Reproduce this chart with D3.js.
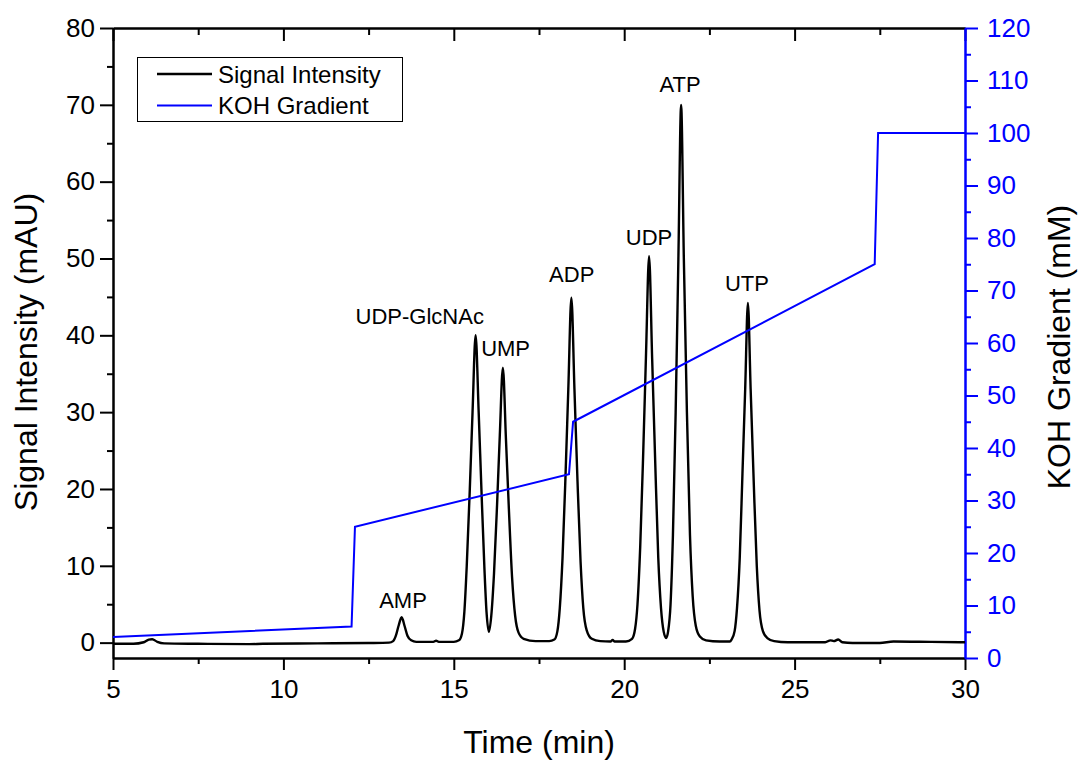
<!DOCTYPE html>
<html>
<head>
<meta charset="utf-8">
<script src="https://cdn.jsdelivr.net/npm/d3@7"></script>
<style>
html,body{margin:0;padding:0;background:#fff;}
svg{display:block;font-family:"Liberation Sans",Arial,sans-serif;}
</style>
</head>
<body>
<svg id="chart" width="1081" height="762"></svg>
<script>
// ---- Data ----
const signalTime = [5.00,5.60,5.90,6.05,6.15,6.30,6.50,7.50,9.00,9.40,11.00,12.50,13.10,
  13.22,13.30,13.38,13.47,13.56,13.64,13.75,13.90,14.40,14.48,14.56,15.00,
  15.15,15.24,15.31,15.38,15.47,15.55,15.64,15.73,15.81,15.90,15.96,16.03,
  16.10,16.18,16.27,16.35,16.44,16.53,16.62,16.71,16.80,16.90,17.05,17.40,17.80,
  17.95,18.04,18.11,18.19,18.28,18.36,18.45,18.54,18.63,18.72,18.80,18.90,19.05,19.30,19.60,19.66,19.72,20.05,
  20.23,20.32,20.39,20.47,20.56,20.64,20.73,20.82,20.91,21.00,21.08,21.16,21.23,
  21.29,21.36,21.43,21.51,21.59,21.67,21.75,21.84,21.93,22.01,22.10,22.22,22.40,22.80,23.10,
  23.15,23.24,23.31,23.39,23.47,23.55,23.63,23.71,23.80,23.89,23.97,24.07,24.20,24.40,24.80,
  25.90,26.05,26.15,26.28,26.40,26.70,27.50,27.90,29.00,30.00];
const signalValue = [-0.15,-0.15,0.05,0.4,0.45,0.1,-0.1,-0.15,-0.2,-0.15,-0.1,-0.05,0.0,
  0.2,0.9,2.2,3.3,2.1,0.9,0.3,0.1,0.1,0.25,0.1,0.1,
  0.3,1.2,4,10,20,30,40,30,20,9.5,4,1.4,
  3.5,9,18,27,35.8,26.5,17,8.5,3.5,1.3,0.5,0.2,0.2,
  0.4,1.5,4.5,11,22,33,44.9,33,21,10.5,4.5,1.6,0.5,0.2,0.15,0.35,0.15,0.15,
  0.5,1.8,5,12.5,25,37.5,50.3,37,23.5,11,4.5,1.4,0.6,
  1.5,5,14,30,50,70,50,30,14,6,2.2,0.8,0.3,0.15,0.15,
  0.4,1.5,4.5,11,22,33,44.2,33,21,10,4.2,1.5,0.6,0.2,0.05,
  0.05,0.3,0.2,0.4,0.05,-0.05,-0.05,0.15,0.1,0.05];

const gradientTime = [5, 12.0, 12.1, 18.38, 18.5, 27.35, 27.45, 30];
const gradientConc = [4, 6, 25, 35, 45, 75, 100, 100];

const peakNames = ["AMP","UDP-GlcNAc","UMP","ADP","UDP","ATP","UTP"];
const peakLabelTime = [13.51, 14.0, 16.52, 18.46, 20.73, 21.64, 23.6];
const peakLabelValue = [4.5, 41.5, 37.3, 46.9, 51.8, 71.7, 45.8];

const xTicks = [5,10,15,20,25,30];
const xMinor = [7.5,12.5,17.5,22.5,27.5];
const yLeftTicks = [0,10,20,30,40,50,60,70,80];
const yLeftMinor = [5,15,25,35,45,55,65,75];
const yRightTicks = d3.range(0,121,10);
const yRightMinor = d3.range(5,120,10);

// ---- Layout ----
const svg = d3.select("#chart");
const L = 113, R = 965, T = 28, B = 658;
const BLUE = "#0000ff";
const x = d3.scaleLinear().domain([5,30]).range([L,R]);
const yL = d3.scaleLinear().domain([-2,80]).range([B,T]);
const yR = d3.scaleLinear().domain([0,120]).range([B,T]);

function styleAxis(g, color, fs){
  g.selectAll("path.domain").attr("stroke", color).attr("stroke-width", 2);
  g.selectAll(".tick line").attr("stroke", color).attr("stroke-width", 2);
  g.selectAll(".tick text").attr("fill", color).style("font-size", fs + "px")
    .style("font-family", '"Liberation Sans",Arial,sans-serif');
}

// bottom axis
const gB = svg.append("g").attr("transform", `translate(0,${B})`)
  .call(d3.axisBottom(x).tickValues(xTicks).tickSize(12).tickSizeOuter(0).tickPadding(10).tickFormat(d3.format("d")));
styleAxis(gB, "#000", 26);
const gBm = svg.append("g").attr("transform", `translate(0,${B})`)
  .call(d3.axisBottom(x).tickValues(xMinor).tickSize(6).tickSizeOuter(0).tickFormat(""));
styleAxis(gBm, "#000", 26);

// top axis (ticks inward)
const gT = svg.append("g").attr("transform", `translate(0,${T})`)
  .call(d3.axisBottom(x).tickValues(xTicks).tickSize(13).tickSizeOuter(0).tickFormat(""));
styleAxis(gT, "#000", 26);
const gTm = svg.append("g").attr("transform", `translate(0,${T})`)
  .call(d3.axisBottom(x).tickValues(xMinor).tickSize(7).tickSizeOuter(0).tickFormat(""));
styleAxis(gTm, "#000", 26);

// left axis
const gLft = svg.append("g").attr("transform", `translate(${L},0)`)
  .call(d3.axisLeft(yL).tickValues(yLeftTicks).tickSize(13).tickSizeOuter(0).tickPadding(5).tickFormat(d3.format("d")));
styleAxis(gLft, "#000", 26);
const gLm = svg.append("g").attr("transform", `translate(${L},0)`)
  .call(d3.axisLeft(yL).tickValues(yLeftMinor).tickSize(6).tickSizeOuter(0).tickFormat(""));
styleAxis(gLm, "#000", 26);

// right axis
const gRt = svg.append("g").attr("transform", `translate(${R},0)`)
  .call(d3.axisRight(yR).tickValues(yRightTicks).tickSize(13).tickSizeOuter(0).tickPadding(9).tickFormat(d3.format("d")));
styleAxis(gRt, BLUE, 26);
const gRm = svg.append("g").attr("transform", `translate(${R},0)`)
  .call(d3.axisRight(yR).tickValues(yRightMinor).tickSize(6).tickSizeOuter(0).tickFormat(""));
styleAxis(gRm, BLUE, 26);

// ---- Lines ----
const sig = signalTime.map((t,i)=>({t, v: signalValue[i]}));
const grad = gradientTime.map((t,i)=>({t, v: gradientConc[i]}));

svg.append("path").datum(sig)
  .attr("fill","none").attr("stroke","#000").attr("stroke-width",2.4).attr("stroke-linejoin","round")
  .attr("d", d3.line().x(d=>x(d.t)).y(d=>yL(d.v)).curve(d3.curveMonotoneX));

svg.append("path").datum(grad)
  .attr("fill","none").attr("stroke",BLUE).attr("stroke-width",2)
  .attr("d", d3.line().x(d=>x(d.t)).y(d=>yR(d.v)));

// ---- Peak labels ----
svg.append("g").selectAll("text").data(peakNames).join("text")
  .attr("x",(d,i)=>x(peakLabelTime[i]))
  .attr("y",(d,i)=>yL(peakLabelValue[i]))
  .attr("text-anchor","middle")
  .style("font-size","22px").attr("fill","#000")
  .text(d=>d);

// ---- Axis titles ----
svg.append("text").attr("x", (L+R)/2).attr("y", 753).attr("text-anchor","middle")
  .style("font-size","32px").text("Time (min)");
svg.append("text").attr("transform", `translate(37,352) rotate(-90)`).attr("text-anchor","middle")
  .style("font-size","32px").text("Signal Intensity (mAU)");
svg.append("text").attr("transform", `translate(1070,347) rotate(-90)`).attr("text-anchor","middle")
  .style("font-size","32px").text("KOH Gradient (mM)");

// ---- Legend ----
const legendNames = ["Signal Intensity","KOH Gradient"];
const legendColors = ["#000", BLUE];
const lg = svg.append("g");
lg.append("rect").attr("x",137.5).attr("y",57.5).attr("width",265).attr("height",64)
  .attr("fill","#fff").attr("stroke","#000").attr("stroke-width",1);
legendNames.forEach((n,i)=>{
  const yy = 74 + i*31.5;
  lg.append("line").attr("x1",157).attr("x2",212).attr("y1",yy).attr("y2",yy)
    .attr("stroke",legendColors[i]).attr("stroke-width", i===0?2.4:2);
  lg.append("text").attr("x",218).attr("y",yy+8.5).style("font-size","24px").text(n);
});
</script>
</body>
</html>
